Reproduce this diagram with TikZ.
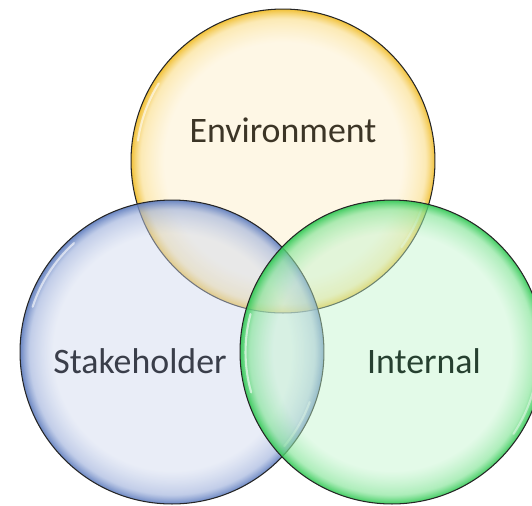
\documentclass[tikz,border=0pt]{standalone}
\usepackage{fontspec}
\setmainfont{Carlito}
\usetikzlibrary{fadings}

\definecolor{envcore}{RGB}{253,237,197}
\definecolor{envmid}{RGB}{250,222,140}
\definecolor{envrim}{RGB}{240,188,40}
\definecolor{stkcore}{RGB}{206,215,237}
\definecolor{stkmid}{RGB}{160,178,220}
\definecolor{stkrim}{RGB}{95,125,190}
\definecolor{intcore}{RGB}{193,244,204}
\definecolor{intmid}{RGB}{130,228,150}
\definecolor{intrim}{RGB}{50,200,85}
\definecolor{envtext}{RGB}{60,53,38}
\definecolor{stktext}{RGB}{58,62,74}
\definecolor{inttext}{RGB}{38,64,48}

\pgfdeclareradialshading{envball}{\pgfpointorigin}{color(0bp)=(envcore); color(19.5bp)=(envcore); color(23.4bp)=(envmid); color(25bp)=(envrim); color(50bp)=(envrim)}
\pgfdeclareradialshading{stkball}{\pgfpointorigin}{color(0bp)=(stkcore); color(19.5bp)=(stkcore); color(23.4bp)=(stkmid); color(25bp)=(stkrim); color(50bp)=(stkrim)}
\pgfdeclareradialshading{intball}{\pgfpointorigin}{color(0bp)=(intcore); color(19.5bp)=(intcore); color(23.4bp)=(intmid); color(25bp)=(intrim); color(50bp)=(intrim)}
\pgfdeclareradialshading{rimfadeshade}{\pgfpointorigin}{color(0bp)=(pgftransparent!55); color(19.5bp)=(pgftransparent!55); color(23.4bp)=(pgftransparent!35); color(25bp)=(pgftransparent!5); color(50bp)=(pgftransparent!5)}
\pgfdeclarefading{rimfade}{\pgfuseshading{rimfadeshade}}

\tikzset{
  ball/.style={path fading=rimfade, shading=#1},
  rimline/.style={draw=black!85, line width=0.6pt},
  glare/.style={white, line width=1.2pt, opacity=0.6, line cap=round},
  label/.style={font=\fontsize{20.4}{24}\selectfont, anchor=base}
}

\begin{document}
\begin{tikzpicture}[x=0.02cm, y=-0.02cm]
\useasboundingbox (0,0) rectangle (532,505);
\coordinate (env) at (283,161);
\coordinate (stk) at (172,352);
\coordinate (int) at (392,352);

% circles, back to front
\foreach \c/\s/\a/\b/\p/\q in {env/envball/148/172/-36/-16, stk/stkball/132/162/-40/-20, int/intball/165/196/-34/-14} {
  \shade[ball=\s] (\c) circle (3.04cm);
  \draw[glare] (\c) ++(\a:2.93cm) arc[start angle=\a, end angle=\b, radius=2.93cm];
  \draw[glare, opacity=0.45] (\c) ++(\p:2.93cm) arc[start angle=\p, end angle=\q, radius=2.93cm];
  \draw[rimline] (\c) circle (3.04cm);
}

\node[label, text=envtext] (envlabel) at (283,142) {Environment};
\node[label, text=stktext] (stklabel) at (140,373) {Stakeholder};
\node[label, text=inttext] (intlabel) at (424,373) {Internal};
\end{tikzpicture}
\end{document}
